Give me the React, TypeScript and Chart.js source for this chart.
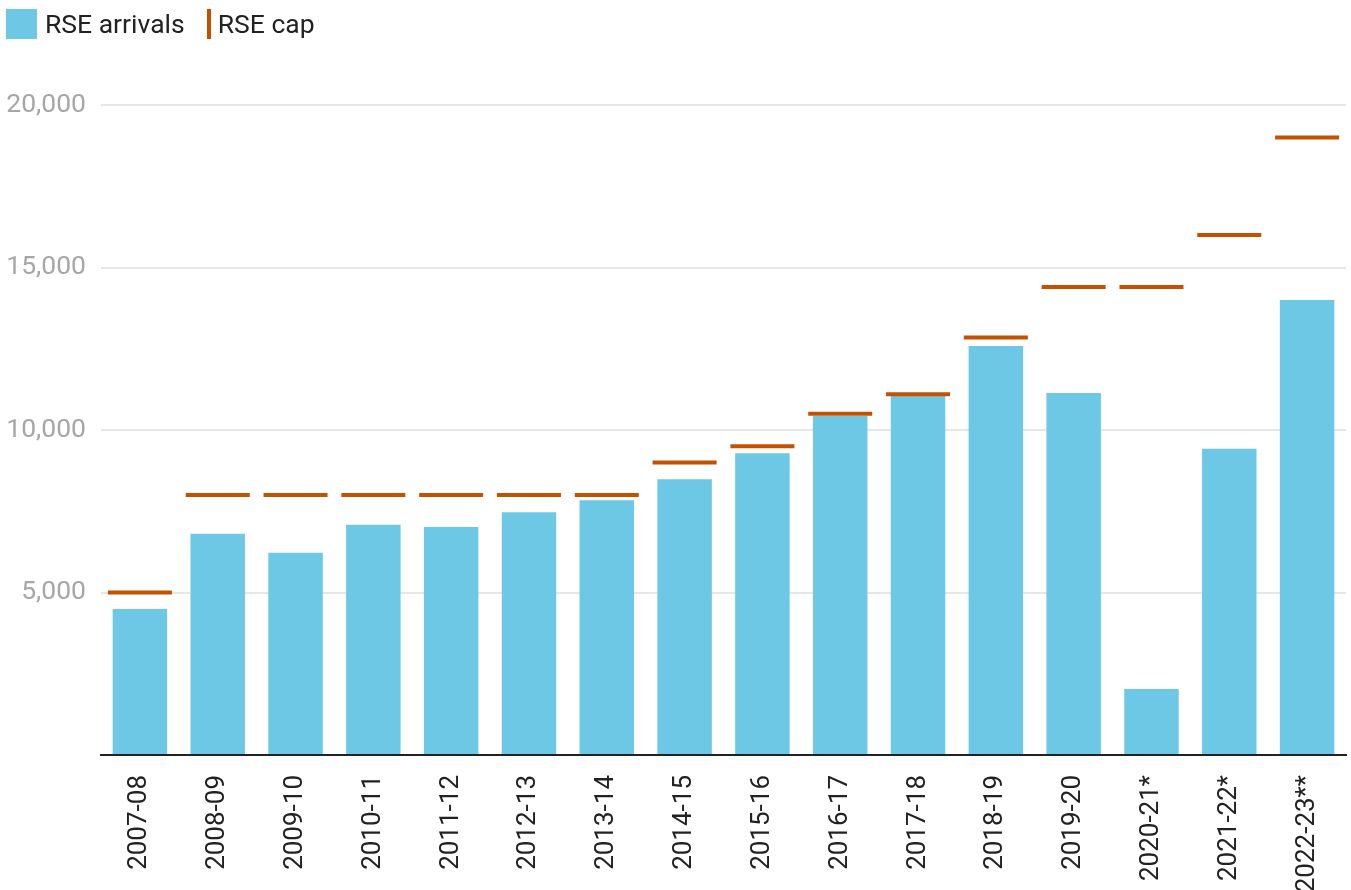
import React, { useEffect, useRef } from "react";
import { Chart, registerables } from "chart.js";

Chart.register(...registerables);

const categories = [
  "2007-08", "2008-09", "2009-10", "2010-11", "2011-12", "2012-13", "2013-14", "2014-15",
  "2015-16", "2016-17", "2017-18", "2018-19", "2019-20", "2020-21*", "2021-22*", "2022-23**",
];
const arrivals = [4490, 6810, 6225, 7086, 7015, 7467, 7836, 8483, 9282, 10431, 11056, 12585, 11138, 2030, 9425, 14000];
const caps = [5000, 8000, 8000, 8000, 8000, 8000, 8000, 9000, 9500, 10500, 11100, 12850, 14400, 14400, 16000, 19000];
const yTicks = [0, 5000, 10000, 15000, 20000];

const BAR_COLOR = "#6cc8e5";
const CAP_COLOR = "#c25100";
const FONT = "Roboto, 'Noto Sans', sans-serif";

export default function App() {
  const canvasRef = useRef<HTMLCanvasElement | null>(null);

  useEffect(() => {
    document.body.style.margin = "0";
    const canvas = canvasRef.current;
    if (!canvas) return;
    const chart = new Chart(canvas, {
      type: "bar",
      data: {
        labels: categories,
        datasets: [
          {
            type: "line",
            label: "RSE cap",
            data: caps,
            showLine: false,
            pointStyle: "line",
            pointRadius: 32,
            pointHoverRadius: 32,
            pointBorderWidth: 4,
            pointHoverBorderWidth: 4,
            borderColor: CAP_COLOR,
            backgroundColor: CAP_COLOR,
            clip: false,
            order: 0,
          } as any,
          {
            type: "bar",
            label: "RSE arrivals",
            data: arrivals,
            backgroundColor: BAR_COLOR,
            barPercentage: 0.7,
            categoryPercentage: 1,
            order: 1,
          },
        ],
      },
      options: {
        animation: false,
        responsive: false,
        maintainAspectRatio: false,
        layout: { autoPadding: false, padding: { top: 105, right: 5, bottom: 0, left: 0 } },
        plugins: {
          legend: { display: false },
          tooltip: { enabled: false },
        },
        scales: {
          x: {
            grid: { display: false, drawTicks: false },
            border: { display: true, color: "#222", width: 2 },
            ticks: {
              autoSkip: false,
              minRotation: 90,
              maxRotation: 90,
              padding: 20,
              color: "#222",
              font: { family: FONT, size: 26 },
            },
            afterFit: (scale: any) => {
              scale.height = 135;
              scale.paddingLeft = 0;
              scale.paddingRight = 0;
            },
          },
          y: {
            min: 0,
            max: 20000,
            border: { display: false },
            grid: {
              drawTicks: false,
              lineWidth: 2,
              color: (ctx: any) => (ctx.tick && ctx.tick.value === 0 ? "rgba(0,0,0,0)" : "#e6e6e6"),
            },
            afterBuildTicks: (scale: any) => {
              scale.ticks = yTicks.map((v) => ({ value: v }));
            },
            ticks: {
              padding: 15,
              color: "#a6a6a6",
              font: { family: FONT, size: 26.5 },
              callback: (v: any) => (Number(v) === 0 ? "" : Number(v).toLocaleString("en-US")),
            },
            afterFit: (scale: any) => {
              scale.width = 101;
              scale.paddingTop = 0;
              scale.paddingBottom = 0;
            },
          },
        },
      },
    });
    return () => chart.destroy();
  }, []);

  return (
    <div style={{ position: "relative", width: 1351, height: 890, fontFamily: FONT }}>
      <canvas ref={canvasRef} width={1351} height={890} style={{ display: "block" }} />
      <div
        style={{
          position: "absolute",
          top: 8,
          left: 6,
          display: "flex",
          alignItems: "center",
          height: 31,
          fontSize: 26.5,
          color: "#222",
        }}
      >
        <span style={{ display: "inline-block", width: 31, height: 30, background: BAR_COLOR, marginRight: 8 }} />
        <span style={{ marginRight: 22 }}>RSE arrivals</span>
        <span style={{ display: "inline-block", width: 4, height: 30, background: CAP_COLOR, marginRight: 7 }} />
        <span>RSE cap</span>
      </div>
    </div>
  );
}
